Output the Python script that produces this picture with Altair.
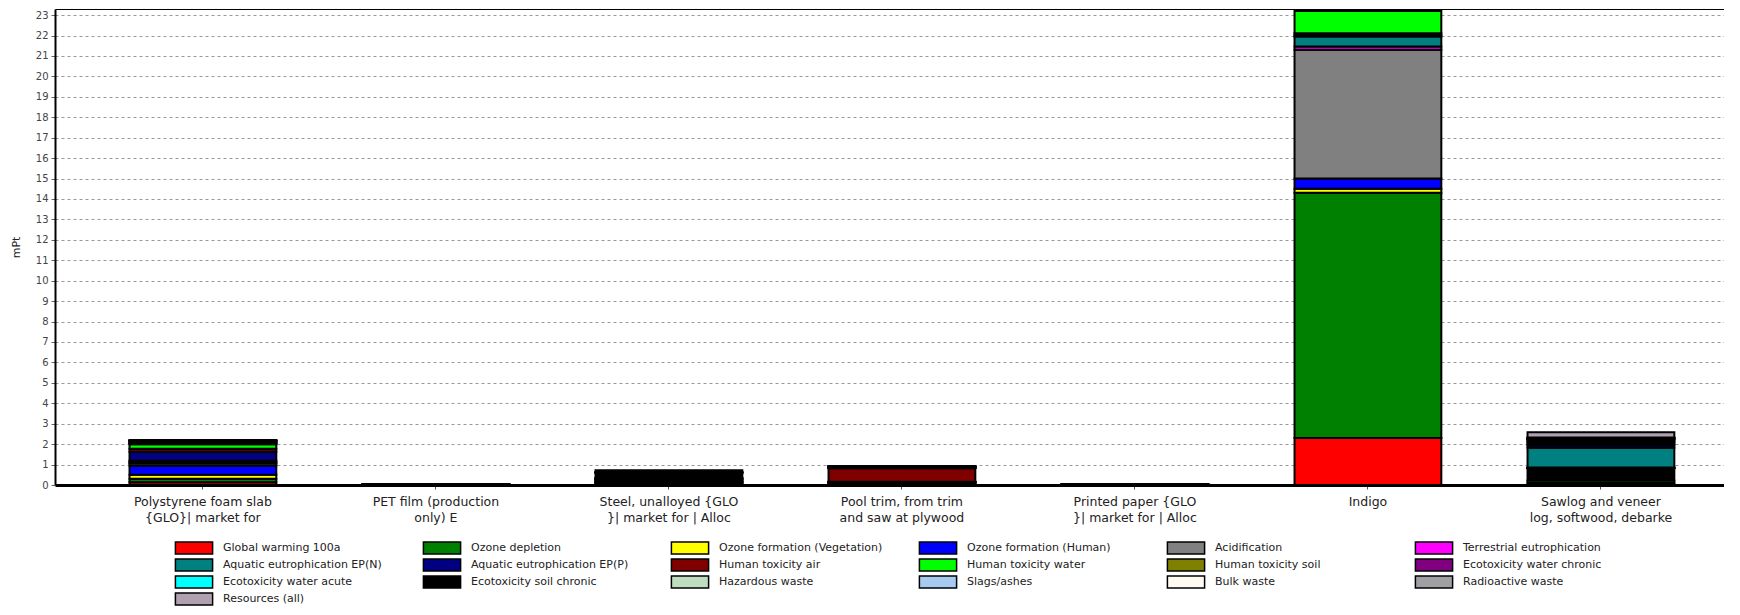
import altair as alt
import pandas as pd

# x categories (two label lines joined by "@@")
categories = [
    "Polystyrene foam slab@@{GLO}| market for",
    "PET film (production@@only) E",
    "Steel, unalloyed {GLO@@}| market for | Alloc",
    "Pool trim, from trim@@and saw at plywood",
    "Printed paper {GLO@@}| market for | Alloc",
    "Indigo",
    "Sawlog and veneer@@log, softwood, debarke",
]

impacts = [
    "Global warming 100a", "Ozone depletion", "Ozone formation (Vegetation)",
    "Ozone formation (Human)", "Acidification", "Terrestrial eutrophication",
    "Aquatic eutrophication EP(N)", "Aquatic eutrophication EP(P)", "Human toxicity air",
    "Human toxicity water", "Human toxicity soil", "Ecotoxicity water chronic",
    "Ecotoxicity water acute", "Ecotoxicity soil chronic", "Hazardous waste",
    "Slags/ashes", "Bulk waste", "Radioactive waste", "Resources (all)",
]

colors = [
    "#ff0000", "#008000", "#ffff00",
    "#0000ff", "#808080", "#ff00ff",
    "#008080", "#000080", "#800000",
    "#00ff00", "#808000", "#800080",
    "#00ffff", "#000000", "#c0dcc0",
    "#a6caf0", "#fffbf0", "#a0a0a4", "#b0a0b0",
]

# values in mPt, one per impact category (legend order)
polystyrene = [0.14, 0.16, 0.20, 0.45, 0.12, 0.04, 0.08, 0.44, 0.15, 0.22,
               0.03, 0.02, 0.01, 0.08, 0.01, 0.01, 0.01, 0.01, 0.02]
pet_film = [0.01, 0.01, 0.0, 0.005, 0.0, 0.0, 0.0, 0.005, 0.0, 0.0,
            0.0, 0.0, 0.0, 0.01, 0.0, 0.0, 0.0, 0.0, 0.01]
steel = [0.03, 0.03, 0.04, 0.03, 0.02, 0.01, 0.02, 0.05, 0.04, 0.03,
         0.01, 0.02, 0.01, 0.25, 0.01, 0.01, 0.01, 0.02, 0.08]
pool_trim = [0.03, 0.03, 0.05, 0.02, 0.01, 0.005, 0.01, 0.01, 0.65, 0.02,
             0.01, 0.01, 0.005, 0.03, 0.005, 0.005, 0.005, 0.005, 0.01]
printed_paper = [0.01, 0.005, 0.0, 0.005, 0.0, 0.0, 0.0, 0.005, 0.0, 0.0,
                 0.0, 0.0, 0.0, 0.01, 0.0, 0.0, 0.0, 0.0, 0.005]
indigo = [2.30, 12.0, 0.20, 0.50, 6.30, 0.16, 0.50, 0.05, 0.10, 1.10,
          0.0, 0.0, 0.0, 0.0, 0.0, 0.0, 0.0, 0.0, 0.0]
sawlog = [0.10, 0.12, 0.01, 0.01, 0.01, 0.01, 0.96, 0.12, 0.10, 0.08,
          0.06, 0.06, 0.03, 0.60, 0.01, 0.01, 0.01, 0.02, 0.26]

series = [polystyrene, pet_film, steel, pool_trim, printed_paper, indigo, sawlog]

# stacking position overrides (category index, impact) -> order key
stack_override = {(6, "Ecotoxicity soil chronic"): 1.5}

rows = []
for ci, (cat, vals) in enumerate(zip(categories, series)):
    for ii, (imp, v) in enumerate(zip(impacts, vals)):
        rows.append({"cat": cat, "impact": imp, "value": v,
                     "order": stack_override.get((ci, imp), ii)})
df = pd.DataFrame(rows)

y_ticks = list(range(0, 24)) + [23.3]
FONT = "DejaVu Sans"

chart = alt.Chart(df).mark_bar(stroke="black", strokeWidth=2, opacity=1).encode(
    x=alt.X(
        "cat:N", sort=categories,
        scale=alt.Scale(paddingInner=0.37, paddingOuter=0.2665, align=0.6),
        axis=alt.Axis(
            title=None, labelAngle=0, labelExpr="split(datum.label, '@@')",
            labelFont=FONT, labelFontSize=12.5, labelLineHeight=16, labelColor="#222",
            labelPadding=6, labelLimit=400, tickSize=4, tickColor="#555",
            domainColor="black", domainWidth=3, grid=False,
        ),
    ),
    y=alt.Y(
        "value:Q", stack="zero",
        scale=alt.Scale(domain=[0, 23.3], nice=False, zero=True),
        axis=alt.Axis(
            title="mPt", values=y_ticks,
            labelExpr="datum.value > 23.1 ? '' : datum.label",
            labelFont=FONT, labelFontSize=10, labelColor="#444", labelPadding=3,
            tickSize=4, tickColor="#666",
            tickOpacity={"condition": {"test": "datum.value > 23.1", "value": 0}, "value": 1},
            grid=True,
            gridColor={"condition": {"test": "datum.value > 23.1", "value": "black"}, "value": "#999999"},
            gridDash={"condition": {"test": "datum.value > 23.1", "value": []}, "value": [3, 3]},
            gridWidth=1,
            domainColor="black", domainWidth=2,
            titleFont=FONT, titleFontSize=11, titleFontWeight="normal", titleColor="#222",
            titlePadding=14,
        ),
    ),
    fill=alt.Fill(
        "impact:N",
        scale=alt.Scale(domain=impacts, range=colors),
        legend=alt.Legend(
            title=None, orient="none", legendX=132, legendY=532,
            direction="horizontal", columns=6, gridAlign="all",
            symbolType="M-3.1,-1H3.1V1H-3.1Z", symbolSize=144,
            symbolStrokeColor="black", symbolStrokeWidth=1.5, symbolOpacity=1,
            labelFont=FONT, labelFontSize=11, labelColor="#222", labelOffset=22,
            labelLimit=300, columnPadding=33, rowPadding=-1,
        ),
    ),
    order=alt.Order("order:Q", sort="ascending"),
).properties(
    width=1669, height=476,
    autosize=alt.AutoSizeParams(type="none"),
    padding={"left": 47, "top": 1, "right": 0, "bottom": 121},
).configure_view(stroke=None).configure(font=FONT, background="white")

chart.save("out.html", embed_options={"renderer": "svg", "actions": False})
